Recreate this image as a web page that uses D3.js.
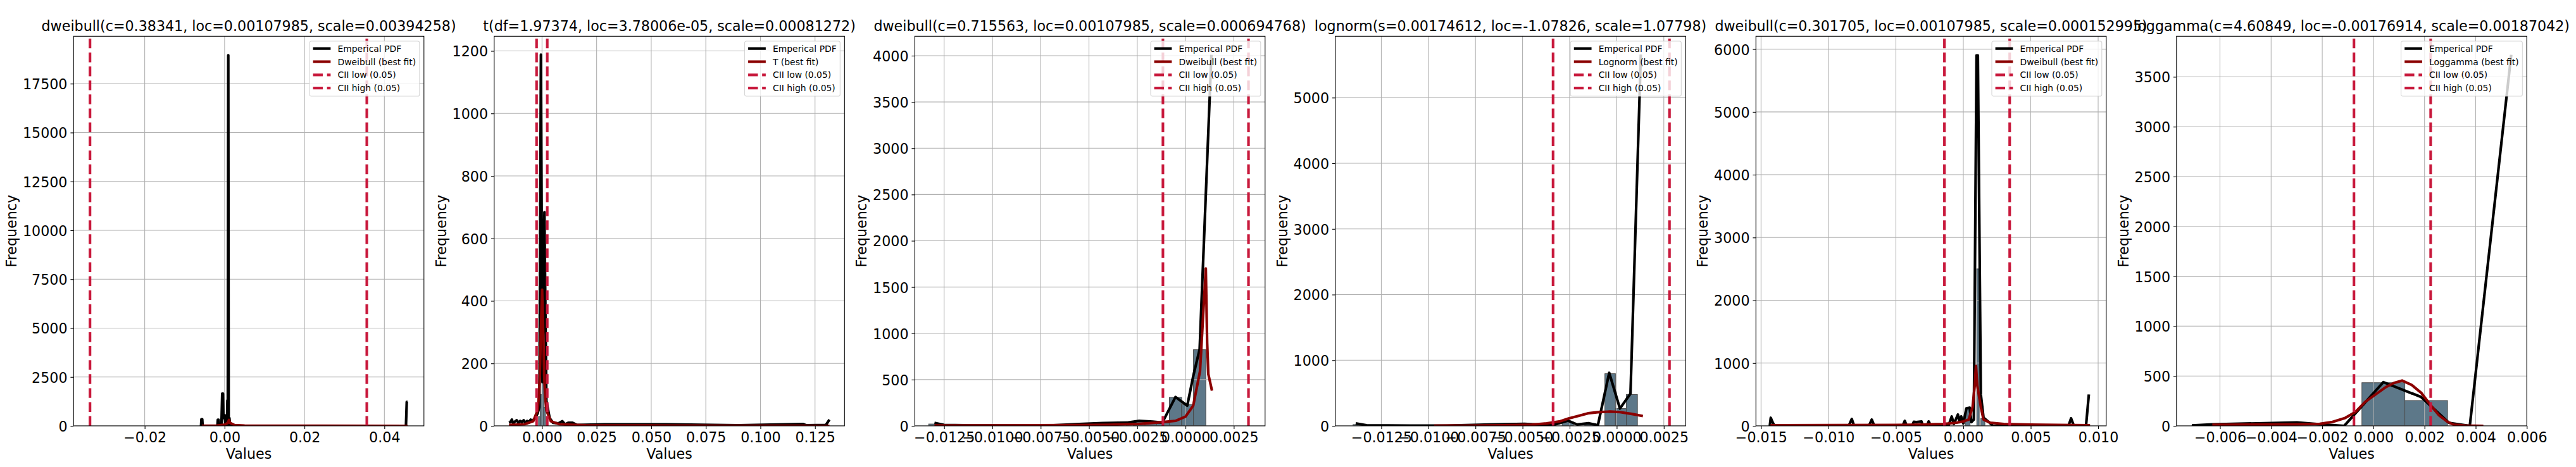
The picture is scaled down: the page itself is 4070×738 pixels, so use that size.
<!DOCTYPE html>
<html>
<head>
<meta charset="utf-8">
<script src="https://cdn.jsdelivr.net/npm/d3@7"></script>
<style>
html, body { margin: 0; padding: 0; background: #fff; }
svg { display: block; font-family: "DejaVu Sans", sans-serif; }
</style>
</head>
<body>
<svg id="chart" width="4070" height="738"></svg>
<script>
// ---- data ----
var titles = [
    'dweibull(c=0.38341, loc=0.00107985, scale=0.00394258)',
    't(df=1.97374, loc=3.78006e-05, scale=0.00081272)',
    'dweibull(c=0.715563, loc=0.00107985, scale=0.000694768)',
    'lognorm(s=0.00174612, loc=-1.07826, scale=1.07798)',
    'dweibull(c=0.301705, loc=0.00107985, scale=0.000152995)',
    'loggamma(c=4.60849, loc=-0.00176914, scale=0.00187042)'
];
var fitLabels = ['Dweibull (best fit)', 'T (best fit)', 'Dweibull (best fit)',
    'Lognorm (best fit)', 'Dweibull (best fit)', 'Loggamma (best fit)'];

var xLimits = [[-0.0378, 0.0499], [-0.0219, 0.1385], [-0.01402, 0.00412],
    [-0.01494, 0.00366], [-0.01538, 0.0106], [-0.0077, 0.006]];
var yMax = [19924, 1247, 4210, 5935, 6205, 3907];

var xTicks = [
    [-0.02, 0, 0.02, 0.04],
    [0, 0.025, 0.05, 0.075, 0.1, 0.125],
    [-0.0125, -0.01, -0.0075, -0.005, -0.0025, 0, 0.0025],
    [-0.0125, -0.01, -0.0075, -0.005, -0.0025, 0, 0.0025],
    [-0.015, -0.01, -0.005, 0, 0.005, 0.01],
    [-0.006, -0.004, -0.002, 0, 0.002, 0.004, 0.006]
];
var xTickLabels = [
    ['\u22120.02', '0.00', '0.02', '0.04'],
    ['0.000', '0.025', '0.050', '0.075', '0.100', '0.125'],
    ['\u22120.0125', '\u22120.0100', '\u22120.0075', '\u22120.0050', '\u22120.0025', '0.0000', '0.0025'],
    ['\u22120.0125', '\u22120.0100', '\u22120.0075', '\u22120.0050', '\u22120.0025', '0.0000', '0.0025'],
    ['\u22120.015', '\u22120.010', '\u22120.005', '0.000', '0.005', '0.010'],
    ['\u22120.006', '\u22120.004', '\u22120.002', '0.000', '0.002', '0.004', '0.006']
];
var yTicks = [
    [0, 2500, 5000, 7500, 10000, 12500, 15000, 17500],
    [0, 200, 400, 600, 800, 1000, 1200],
    [0, 500, 1000, 1500, 2000, 2500, 3000, 3500, 4000],
    [0, 1000, 2000, 3000, 4000, 5000],
    [0, 1000, 2000, 3000, 4000, 5000, 6000],
    [0, 500, 1000, 1500, 2000, 2500, 3000, 3500]
];

var ciiLow = [-0.0337, -0.0025, -0.00117, -0.00338, -0.0014, -0.00076];
var ciiHigh = [0.0356, 0.0024, 0.00326, 0.0028, 0.00344, 0.00224];

// histogram bars: [from, to, count]
var bars1 = [[0.0004, 0.0014, 250]];
var bars2 = [[-0.0016, -0.0008, 30], [-0.0008, 0.0, 100], [0.0, 0.0008, 145], [0.0008, 0.0016, 60]];
var bars3 = [[-0.0133, -0.0127, 20], [-0.0046, -0.0040, 25], [-0.0027, -0.0021, 45],
    [-0.0021, -0.0015, 40], [-0.0015, -0.00084, 30],
    [-0.00084, -0.0002, 308], [-0.0002, 0.00041, 230], [0.00041, 0.00105, 823]];
var bars4 = [[-0.0140, -0.0134, 20], [-0.0029, -0.0023, 60], [-0.0017, -0.0011, 35],
    [-0.00063, -0.00007, 795], [-0.00007, 0.00051, 264], [0.00051, 0.0011, 477]];
var bars5 = [[0.00015, 0.0005, 270], [0.001, 0.00118, 2500], [0.0013, 0.0016, 120]];
var bars6 = [[-0.0071, -0.0063, 6], [-0.0063, -0.0046, 15], [-0.0046, -0.0029, 25],
    [-0.0029, -0.0021, 20], [-0.00045, 0.00123, 433], [0.00123, 0.0029, 254]];

// empirical pdf lines: [value, frequency]
var emp1 = [[-0.0059, 0], [-0.0058, 340], [-0.0056, 340], [-0.0055, 0], [-0.0018, 0], [-0.0017, 310],
    [-0.0015, 310], [-0.0014, 0], [-0.0008, 0], [-0.0006, 1650], [-0.0004, 1650], [-0.0003, 400],
    [0.0, 550], [0.0002, 0], [0.0006, 0], [0.0007, 1300], [0.0008, 300], [0.00092, 18950],
    [0.00102, 0], [0.0012, 400], [0.0014, 0], [0.0454, 0], [0.0456, 1230], [0.0458, 1230]];
var emp2 = [[-0.0151, 10], [-0.0145, 12], [-0.0138, 20], [-0.0132, 8], [-0.0124, 14], [-0.0116, 18],
    [-0.0108, 10], [-0.0100, 16], [-0.0092, 12], [-0.0084, 18], [-0.0076, 10], [-0.0068, 16],
    [-0.0060, 12], [-0.0052, 20], [-0.0044, 15], [-0.0036, 22], [-0.0028, 30], [-0.0020, 40],
    [-0.0012, 60], [-0.0005, 1188], [0.0002, 140], [0.0011, 684], [0.0020, 80], [0.0035, 25],
    [0.0050, 10], [0.0075, 8], [0.0093, 15], [0.0105, 5], [0.0120, 10], [0.0140, 10],
    [0.0160, 3], [0.0287, 5], [0.0497, 5], [0.0570, 5], [0.0900, 2], [0.1194, 6],
    [0.1210, 2], [0.1300, 3], [0.1316, 20]];
var emp3 = [[-0.0130, 33], [-0.0125, 10], [-0.0110, 5], [-0.0090, 5], [-0.0070, 5], [-0.0055, 20],
    [-0.0043, 30], [-0.0030, 35], [-0.0024, 55], [-0.0017, 45], [-0.0012, 35], [-0.00052, 312],
    [0.00009, 219], [0.00041, 547], [0.00073, 827], [0.00134, 4010]];
var emp4 = [[-0.01386, 37], [-0.01328, 10], [-0.0110, 5], [-0.0090, 5], [-0.0067, 20], [-0.0049, 30],
    [-0.0034, 10], [-0.0026, 80], [-0.0021, 20], [-0.0015, 40], [-0.0010, 10], [-0.0004, 808],
    [0.00017, 264], [0.00073, 491], [0.00128, 5656]];
var emp5 = [[-0.01435, 0], [-0.01428, 129], [-0.01415, 60], [-0.0140, 0],
    [-0.0085, 0], [-0.00827, 110], [-0.0081, 0], [-0.0070, 0], [-0.00679, 100], [-0.0066, 0],
    [-0.0045, 0], [-0.00434, 80], [-0.0042, 0], [-0.0038, 0], [-0.00367, 65], [-0.0035, 60],
    [-0.0033, 65], [-0.0031, 70], [-0.0030, 0], [-0.0027, 0], [-0.00257, 70], [-0.0024, 0],
    [-0.0011, 0], [-0.00086, 150], [-0.0007, 30], [-0.0004, 180], [-0.00028, 60], [-0.00016, 150],
    [0.0, 40], [0.00023, 280], [0.00047, 290], [0.0006, 60], [0.00078, 100], [0.00098, 5900],
    [0.00108, 5900], [0.0013, 500], [0.0015, 130], [0.0019, 60], [0.0022, 0],
    [0.0078, 0], [0.00799, 120], [0.0082, 0], [0.0091, 0], [0.00931, 500]];
var emp6 = [[-0.0071, 5], [-0.00628, 15], [-0.00299, 35], [-0.00206, 15], [-0.00114, 0],
    [0.00039, 439], [0.00186, 290], [0.00296, 30], [0.00377, 0], [0.00539, 3721]];

// best fit lines: [value, frequency]
var fit1 = [[-0.0057, 2], [-0.002, 15], [0.0, 60], [0.0008, 150], [0.0011, 300], [0.0014, 150],
    [0.0025, 40], [0.005, 15], [0.01, 5], [0.02, 2], [0.0458, 1]];
var fit2 = [[-0.0151, 3], [-0.008, 5], [-0.004, 15], [-0.002, 50], [-0.0015, 90], [-0.001, 160],
    [-0.0005, 310], [0.00004, 436], [0.0005, 310], [0.001, 160], [0.0015, 90], [0.002, 50],
    [0.004, 15], [0.008, 5], [0.02, 2], [0.06, 1], [0.1316, 0]];
var fit3 = [[-0.0130, 5], [-0.0100, 5], [-0.0060, 8], [-0.0040, 12], [-0.0025, 20], [-0.0015, 35],
    [-0.0005, 55], [0.0, 100], [0.0004, 219], [0.00075, 590], [0.0009, 1150], [0.00105, 1700],
    [0.00112, 900], [0.00118, 560], [0.00137, 380]];
var fit4 = [[-0.0097, 2], [-0.0080, 4], [-0.0060, 8], [-0.0045, 18], [-0.00372, 37], [-0.0030, 70],
    [-0.00255, 114], [-0.0020, 155], [-0.00153, 191], [-0.0010, 208], [-0.00036, 218],
    [0.00017, 210], [0.0008, 182], [0.00139, 150]];
var fit5 = [[-0.0143, 10], [-0.0100, 12], [-0.0050, 15], [-0.0030, 20], [-0.0015, 30], [-0.0005, 50],
    [0.0, 70], [0.0004, 100], [0.00069, 300], [0.00085, 650], [0.00094, 954], [0.00103, 650],
    [0.0013, 300], [0.0015, 100], [0.0020, 50], [0.0030, 30], [0.0050, 20], [0.0094, 10]];
var fit6 = [[-0.0063, 10], [-0.0050, 12], [-0.0040, 14], [-0.0030, 15], [-0.0021, 20], [-0.0016, 40],
    [-0.0011, 80], [-0.0007, 140], [-0.00033, 239], [0.00048, 388], [0.0008, 430], [0.00112, 454],
    [0.0015, 410], [0.00188, 329], [0.0022, 220], [0.00257, 105], [0.0029, 40], [0.00314, 12],
    [0.0036, 2], [0.0043, 0]];

var barsList = [bars1, bars2, bars3, bars4, bars5, bars6];
var empList = [emp1, emp2, emp3, emp4, emp5, emp6];
var fitList = [fit1, fit2, fit3, fit4, fit5, fit6];

// ---- layout ----
var svg = d3.select('#chart');
var axLeft0 = 116.3, axStep = 664.5, axW = 553.5, axTop = 57.3, axBottom = 673;
var axH = axBottom - axTop;
var fontBig = 22.2, fontLegend = 13.9;
var lw = 4.17;
var ciiColor = '#c8193c', fitColor = '#8b0000';
var dash = '15.4,6.7';

titles.forEach(function(title, i) {
    var g = svg.append('g')
        .attr('transform', 'translate(' + (axLeft0 + i * axStep) + ',' + axTop + ')');
    var x = d3.scaleLinear().domain(xLimits[i]).range([0, axW]);
    var y = d3.scaleLinear().domain([0, yMax[i]]).range([axH, 0]);

    g.append('clipPath').attr('id', 'clip' + i)
        .append('rect').attr('width', axW).attr('height', axH);
    var plot = g.append('g').attr('clip-path', 'url(#clip' + i + ')');

    // histogram
    plot.selectAll('.bar').data(barsList[i]).join('rect')
        .attr('class', 'bar')
        .attr('x', function(d) { return x(d[0]); })
        .attr('width', function(d) { return x(d[1]) - x(d[0]); })
        .attr('y', function(d) { return y(d[2]); })
        .attr('height', function(d) { return y(0) - y(d[2]); })
        .attr('fill', '#5d7889')
        .attr('stroke', '#4a4a4a')
        .attr('stroke-width', 1);

    // grid
    plot.selectAll('.gx').data(xTicks[i]).join('line')
        .attr('class', 'gx')
        .attr('x1', function(d) { return x(d); }).attr('x2', function(d) { return x(d); })
        .attr('y1', 0).attr('y2', axH)
        .attr('stroke', '#b0b0b0').attr('stroke-width', 1.1);
    plot.selectAll('.gy').data(yTicks[i]).join('line')
        .attr('class', 'gy')
        .attr('y1', function(d) { return y(d); }).attr('y2', function(d) { return y(d); })
        .attr('x1', 0).attr('x2', axW)
        .attr('stroke', '#b0b0b0').attr('stroke-width', 1.1);

    var line = d3.line()
        .x(function(d) { return x(d[0]); })
        .y(function(d) { return y(d[1]); });

    plot.append('path').datum(empList[i])
        .attr('d', line).attr('fill', 'none')
        .attr('stroke', 'black').attr('stroke-width', lw)
        .attr('stroke-linejoin', 'round');
    plot.append('path').datum(fitList[i])
        .attr('d', line).attr('fill', 'none')
        .attr('stroke', fitColor).attr('stroke-width', lw)
        .attr('stroke-linejoin', 'round');

    // confidence lines, drawn from the bottom up like axvline
    plot.selectAll('.cii').data([ciiLow[i], ciiHigh[i]]).join('line')
        .attr('class', 'cii')
        .attr('x1', function(d) { return x(d); }).attr('x2', function(d) { return x(d); })
        .attr('y1', axH).attr('y2', 0)
        .attr('stroke', ciiColor).attr('stroke-width', lw)
        .attr('stroke-dasharray', dash);

    // axes
    var xa = g.append('g').attr('transform', 'translate(0,' + axH + ')')
        .call(d3.axisBottom(x).tickValues(xTicks[i])
            .tickFormat(function(d, j) { return xTickLabels[i][j]; })
            .tickSize(4.9).tickPadding(4.9));
    xa.select('.domain').remove();
    xa.attr('font-size', fontBig).attr('font-family', '"DejaVu Sans", sans-serif');
    xa.selectAll('line').attr('stroke-width', 1.1);
    xa.selectAll('text').attr('fill', 'black');

    var ya = g.append('g')
        .call(d3.axisLeft(y).tickValues(yTicks[i])
            .tickFormat(function(d) { return String(d); })
            .tickSize(4.9).tickPadding(4.9));
    ya.select('.domain').remove();
    ya.attr('font-size', fontBig).attr('font-family', '"DejaVu Sans", sans-serif');
    ya.selectAll('line').attr('stroke-width', 1.1);
    ya.selectAll('text').attr('fill', 'black').attr('dy', '0.38em');

    var maxW = 0;
    ya.selectAll('text').each(function() {
        maxW = Math.max(maxW, this.getComputedTextLength());
    });

    g.append('rect').attr('width', axW).attr('height', axH)
        .attr('fill', 'none').attr('stroke', 'black').attr('stroke-width', 1.1);

    g.append('text')
        .attr('x', axW / 2).attr('y', axH + 51.7)
        .attr('text-anchor', 'middle').attr('font-size', fontBig)
        .text('Values');
    g.append('text')
        .attr('transform', 'translate(' + (-(9.8 + maxW + 10)) + ',' + (axH / 2) + ') rotate(-90)')
        .attr('text-anchor', 'middle').attr('font-size', fontBig)
        .text('Frequency');
    g.append('text')
        .attr('x', axW / 2).attr('y', -8)
        .attr('text-anchor', 'middle').attr('font-size', fontBig)
        .text(title);

    // legend
    var items = [
        { label: 'Emperical PDF', color: 'black', dash: null },
        { label: fitLabels[i], color: fitColor, dash: null },
        { label: 'CII low (0.05)', color: ciiColor, dash: dash },
        { label: 'CII high (0.05)', color: ciiColor, dash: dash }
    ];
    var lg = g.append('g');
    var box = lg.append('rect');
    var rows = lg.selectAll('.item').data(items).join('g')
        .attr('class', 'item')
        .attr('transform', function(d, k) { return 'translate(0,' + (11.7 + k * 20.8) + ')'; });
    rows.append('line')
        .attr('x1', 5.6).attr('x2', 33.4).attr('y1', 0).attr('y2', 0)
        .attr('stroke', function(d) { return d.color; })
        .attr('stroke-width', lw)
        .attr('stroke-dasharray', function(d) { return d.dash; });
    var texts = rows.append('text')
        .attr('x', 44.5).attr('y', 5)
        .attr('font-size', fontLegend)
        .text(function(d) { return d.label; });
    var tw = 0;
    texts.each(function() { tw = Math.max(tw, this.getComputedTextLength()); });
    var lgW = 44.5 + tw + 5.6, lgH = 87;
    box.attr('width', lgW).attr('height', lgH).attr('rx', 2.8)
        .attr('fill', 'white').attr('fill-opacity', 0.8)
        .attr('stroke', '#cccccc').attr('stroke-opacity', 0.8).attr('stroke-width', 1.1);
    lg.attr('transform', 'translate(' + (axW - 7 - lgW) + ',7.7)');
});
</script>
</body>
</html>
